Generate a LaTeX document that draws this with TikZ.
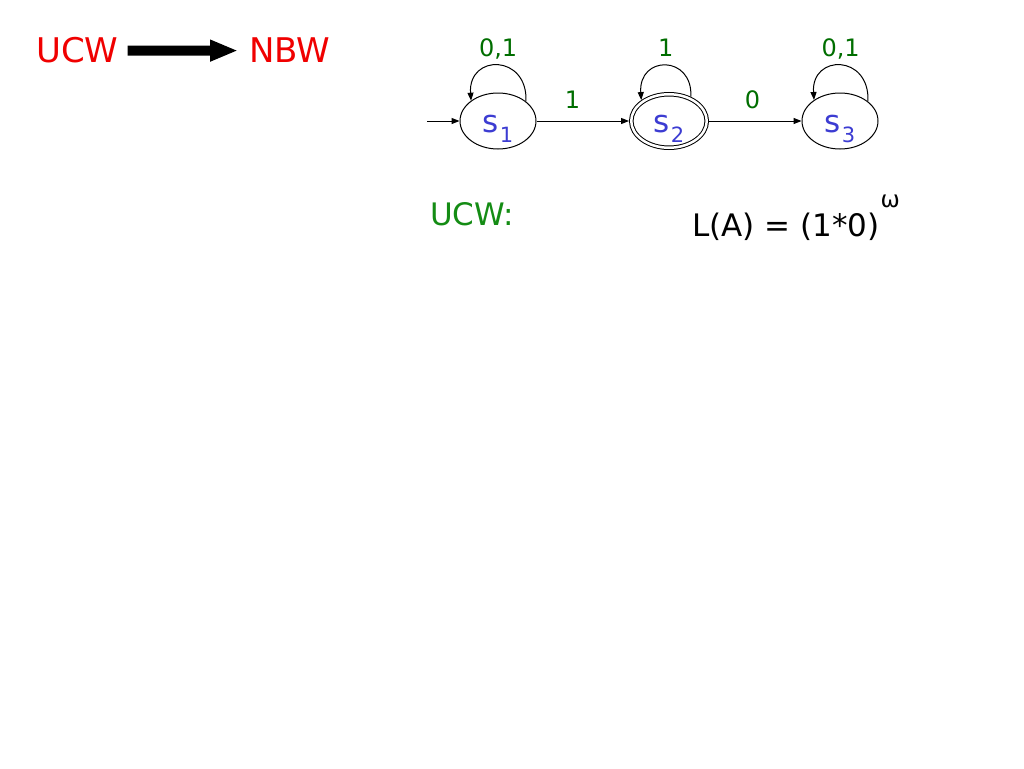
\documentclass[tikz,border=0pt]{standalone}
\usepackage{fontspec}
\setmainfont{DejaVu Sans}
\usetikzlibrary{arrows.meta,shapes.geometric}
\definecolor{ucwred}{RGB}{240,0,0}
\definecolor{lblgreen}{RGB}{0,110,0}
\definecolor{sblue}{RGB}{60,60,210}
\definecolor{ucwgreen}{RGB}{20,140,20}
\tikzset{
  statebox/.style={ellipse, draw, line width=1pt, inner sep=0pt, minimum width=76pt, minimum height=56pt,
    text height=22pt, text depth=0pt, text=sblue, font=\fontsize{31}{31}\selectfont},
  edgearrow/.style={line width=1pt, -{Triangle[length=8pt,width=6pt]}},
  lbl/.style={text=lblgreen, font=\fontsize{24}{24}\selectfont, inner sep=0pt, anchor=base},
  bigtext/.style={inner sep=0pt, anchor=base west},
}
\newcommand{\stsub}[1]{s\kern1pt\raisebox{-10pt}{\fontsize{21}{21}\selectfont #1}}
\begin{document}
\begin{tikzpicture}[x=1pt,y=-1pt]
\fill[white] (0,0) rectangle (1024,768);
\useasboundingbox (0,0) rectangle (1024,768);

% title
\node[bigtext, text=ucwred, font=\fontsize{34}{34}\selectfont] (ucw) at (36,63) {UCW};
\node[bigtext, text=ucwred, font=\fontsize{34}{34}\selectfont] (nbw) at (249,63) {NBW};
\draw[line width=10pt, -{Triangle[length=28pt,width=20pt]}] ([xshift=9pt]ucw.east) -- ([xshift=-11pt]nbw.west);

% automaton
\node[statebox] (s1) at (498,121) {\stsub{1}};
\node[statebox, double, double distance=2.5pt, minimum width=75.5pt, minimum height=53.5pt, outer sep=2.25pt] (s2) at (669,121) {\stsub{2}};
\node[statebox] (s3) at (840,121) {\stsub{3}};
\coordinate (init) at (427,121);

\draw[edgearrow] (init) -- (s1);
\draw[edgearrow] (s1) -- node[lbl, pos=0.39, yshift=13pt] {1} (s2);
\draw[edgearrow] (s2) -- node[lbl, pos=0.47, yshift=13pt] {0} (s3);

\draw[edgearrow] (s1.35) .. controls +(2,-47.5) and +(-3,-47) .. node[lbl, pos=0.5, yshift=9pt] {0,1} (s1.143);
\draw[edgearrow] (s2.48) .. controls +(2,-42) and +(-3,-45) .. node[lbl, pos=0.5, yshift=9pt] {1} (s2.143);
\draw[edgearrow] (s3.35) .. controls +(2,-47.5) and +(-3,-46) .. node[lbl, pos=0.5, yshift=9pt] {0,1} (s3.141);

% texts
\node[bigtext, text=ucwgreen, font=\fontsize{31}{31}\selectfont] (ucwlbl) at (430,225) {UCW:};
\node[bigtext, font=\fontsize{31}{31}\selectfont] (lang) at (692,236) {L(A) = (1*0)\kern1pt\raisebox{29pt}{\fontsize{23}{23}\selectfont ω}};
\end{tikzpicture}
\end{document}
